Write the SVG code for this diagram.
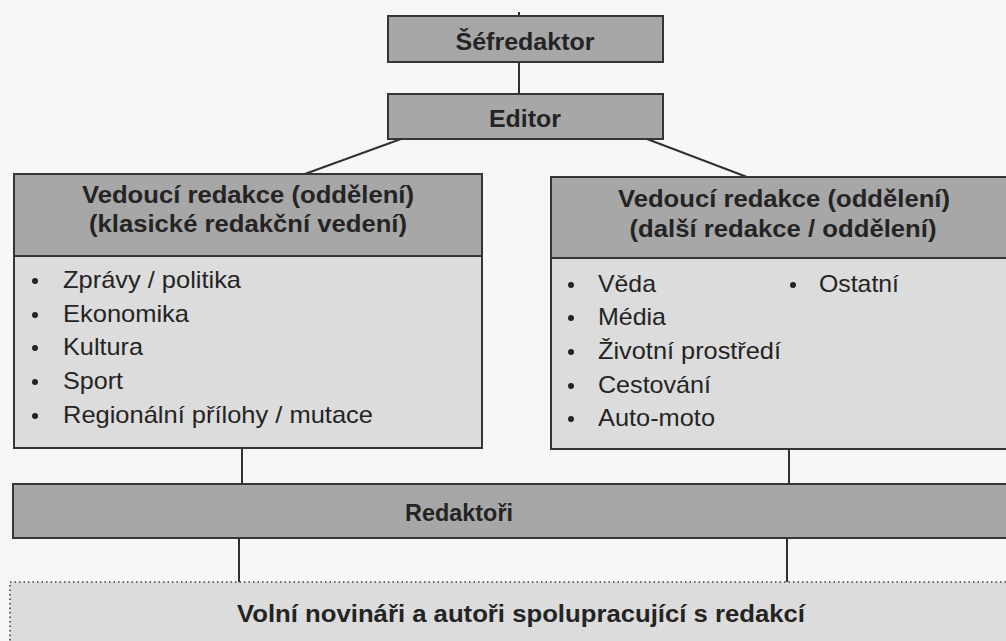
<svg xmlns="http://www.w3.org/2000/svg" width="1006" height="641" viewBox="0 0 1006 641">
  <style>
    .box { stroke: #353535; stroke-width: 2; }
    .dark { fill: #a7a7a7; }
    .light { fill: #dcdcdc; }
    .title { font-family: "Liberation Sans", Arial, sans-serif; font-weight: bold; font-size: 24px; fill: #242424; text-anchor: middle; }
    .item { font-family: "Liberation Sans", Arial, sans-serif; font-size: 24px; fill: #242424; }
    .bullet { fill: #242424; }
    .conn { stroke: #303030; stroke-width: 2; fill: none; }
  </style>
  <rect x="0" y="0" width="1006" height="641" fill="#f7f7f7"/>

  <g id="connectors">
    <line class="conn" x1="519" y1="12" x2="519" y2="16"/>
    <line class="conn" x1="519" y1="62" x2="519" y2="94"/>
    <line class="conn" x1="401" y1="139" x2="302" y2="175"/>
    <line class="conn" x1="647" y1="139" x2="747" y2="177"/>
    <line class="conn" x1="242" y1="448" x2="242" y2="484"/>
    <line class="conn" x1="789" y1="449" x2="789" y2="484"/>
    <line class="conn" x1="239" y1="538" x2="239" y2="582"/>
    <line class="conn" x1="787" y1="538" x2="787" y2="582"/>
  </g>

  <g id="sefredaktor">
    <rect class="box dark" x="388" y="16" width="275" height="46"/>
    <text class="title" x="525" y="50" textLength="139" lengthAdjust="spacingAndGlyphs">Šéfredaktor</text>
  </g>

  <g id="editor">
    <rect class="box dark" x="388" y="94" width="275" height="45"/>
    <text class="title" x="525" y="127" textLength="72" lengthAdjust="spacingAndGlyphs">Editor</text>
  </g>

  <g id="vedouci-klasicke">
    <rect class="box light" x="14" y="174" width="468" height="274"/>
    <rect class="box dark" x="14" y="174" width="468" height="82"/>
    <text class="title" x="248" y="203" textLength="332" lengthAdjust="spacingAndGlyphs">Vedoucí redakce (oddělení)</text>
    <text class="title" x="248" y="232" textLength="318" lengthAdjust="spacingAndGlyphs">(klasické redakční vedení)</text>
    <circle class="bullet" cx="35" cy="281" r="3"/>
    <text class="item" x="63" y="288" textLength="178" lengthAdjust="spacingAndGlyphs">Zprávy / politika</text>
    <circle class="bullet" cx="35" cy="315" r="3"/>
    <text class="item" x="63" y="322" textLength="126" lengthAdjust="spacingAndGlyphs">Ekonomika</text>
    <circle class="bullet" cx="35" cy="348" r="3"/>
    <text class="item" x="63" y="355" textLength="80" lengthAdjust="spacingAndGlyphs">Kultura</text>
    <circle class="bullet" cx="35" cy="382" r="3"/>
    <text class="item" x="63" y="389" textLength="60" lengthAdjust="spacingAndGlyphs">Sport</text>
    <circle class="bullet" cx="35" cy="416" r="3"/>
    <text class="item" x="63" y="423" textLength="310" lengthAdjust="spacingAndGlyphs">Regionální přílohy / mutace</text>
  </g>

  <g id="vedouci-dalsi">
    <rect class="box light" x="551" y="177" width="470" height="272"/>
    <rect class="box dark" x="551" y="177" width="470" height="81"/>
    <text class="title" x="784" y="207" textLength="332" lengthAdjust="spacingAndGlyphs">Vedoucí redakce (oddělení)</text>
    <text class="title" x="783" y="237" textLength="307" lengthAdjust="spacingAndGlyphs">(další redakce / oddělení)</text>
    <circle class="bullet" cx="571" cy="285" r="3"/>
    <text class="item" x="598" y="292" textLength="58" lengthAdjust="spacingAndGlyphs">Věda</text>
    <circle class="bullet" cx="793" cy="285" r="3"/>
    <text class="item" x="819" y="292" textLength="80" lengthAdjust="spacingAndGlyphs">Ostatní</text>
    <circle class="bullet" cx="571" cy="318" r="3"/>
    <text class="item" x="598" y="325" textLength="68" lengthAdjust="spacingAndGlyphs">Média</text>
    <circle class="bullet" cx="571" cy="352" r="3"/>
    <text class="item" x="598" y="359" textLength="183" lengthAdjust="spacingAndGlyphs">Životní prostředí</text>
    <circle class="bullet" cx="571" cy="386" r="3"/>
    <text class="item" x="598" y="393" textLength="113" lengthAdjust="spacingAndGlyphs">Cestování</text>
    <circle class="bullet" cx="571" cy="419" r="3"/>
    <text class="item" x="598" y="426" textLength="117" lengthAdjust="spacingAndGlyphs">Auto-moto</text>
  </g>

  <g id="redaktori">
    <rect class="box dark" x="13" y="484" width="1010" height="54"/>
    <text class="title" x="459" y="521" textLength="108" lengthAdjust="spacingAndGlyphs">Redaktoři</text>
  </g>

  <g id="volni-novinari">
    <rect x="10" y="582" width="1010" height="70" fill="#dcdcdc" stroke="#404040" stroke-width="1.6" stroke-dasharray="1.5 3"/>
    <text class="title" x="521" y="622" font-size="25" textLength="568" lengthAdjust="spacingAndGlyphs">Volní novináři a autoři spolupracující s redakcí</text>
  </g>
</svg>
